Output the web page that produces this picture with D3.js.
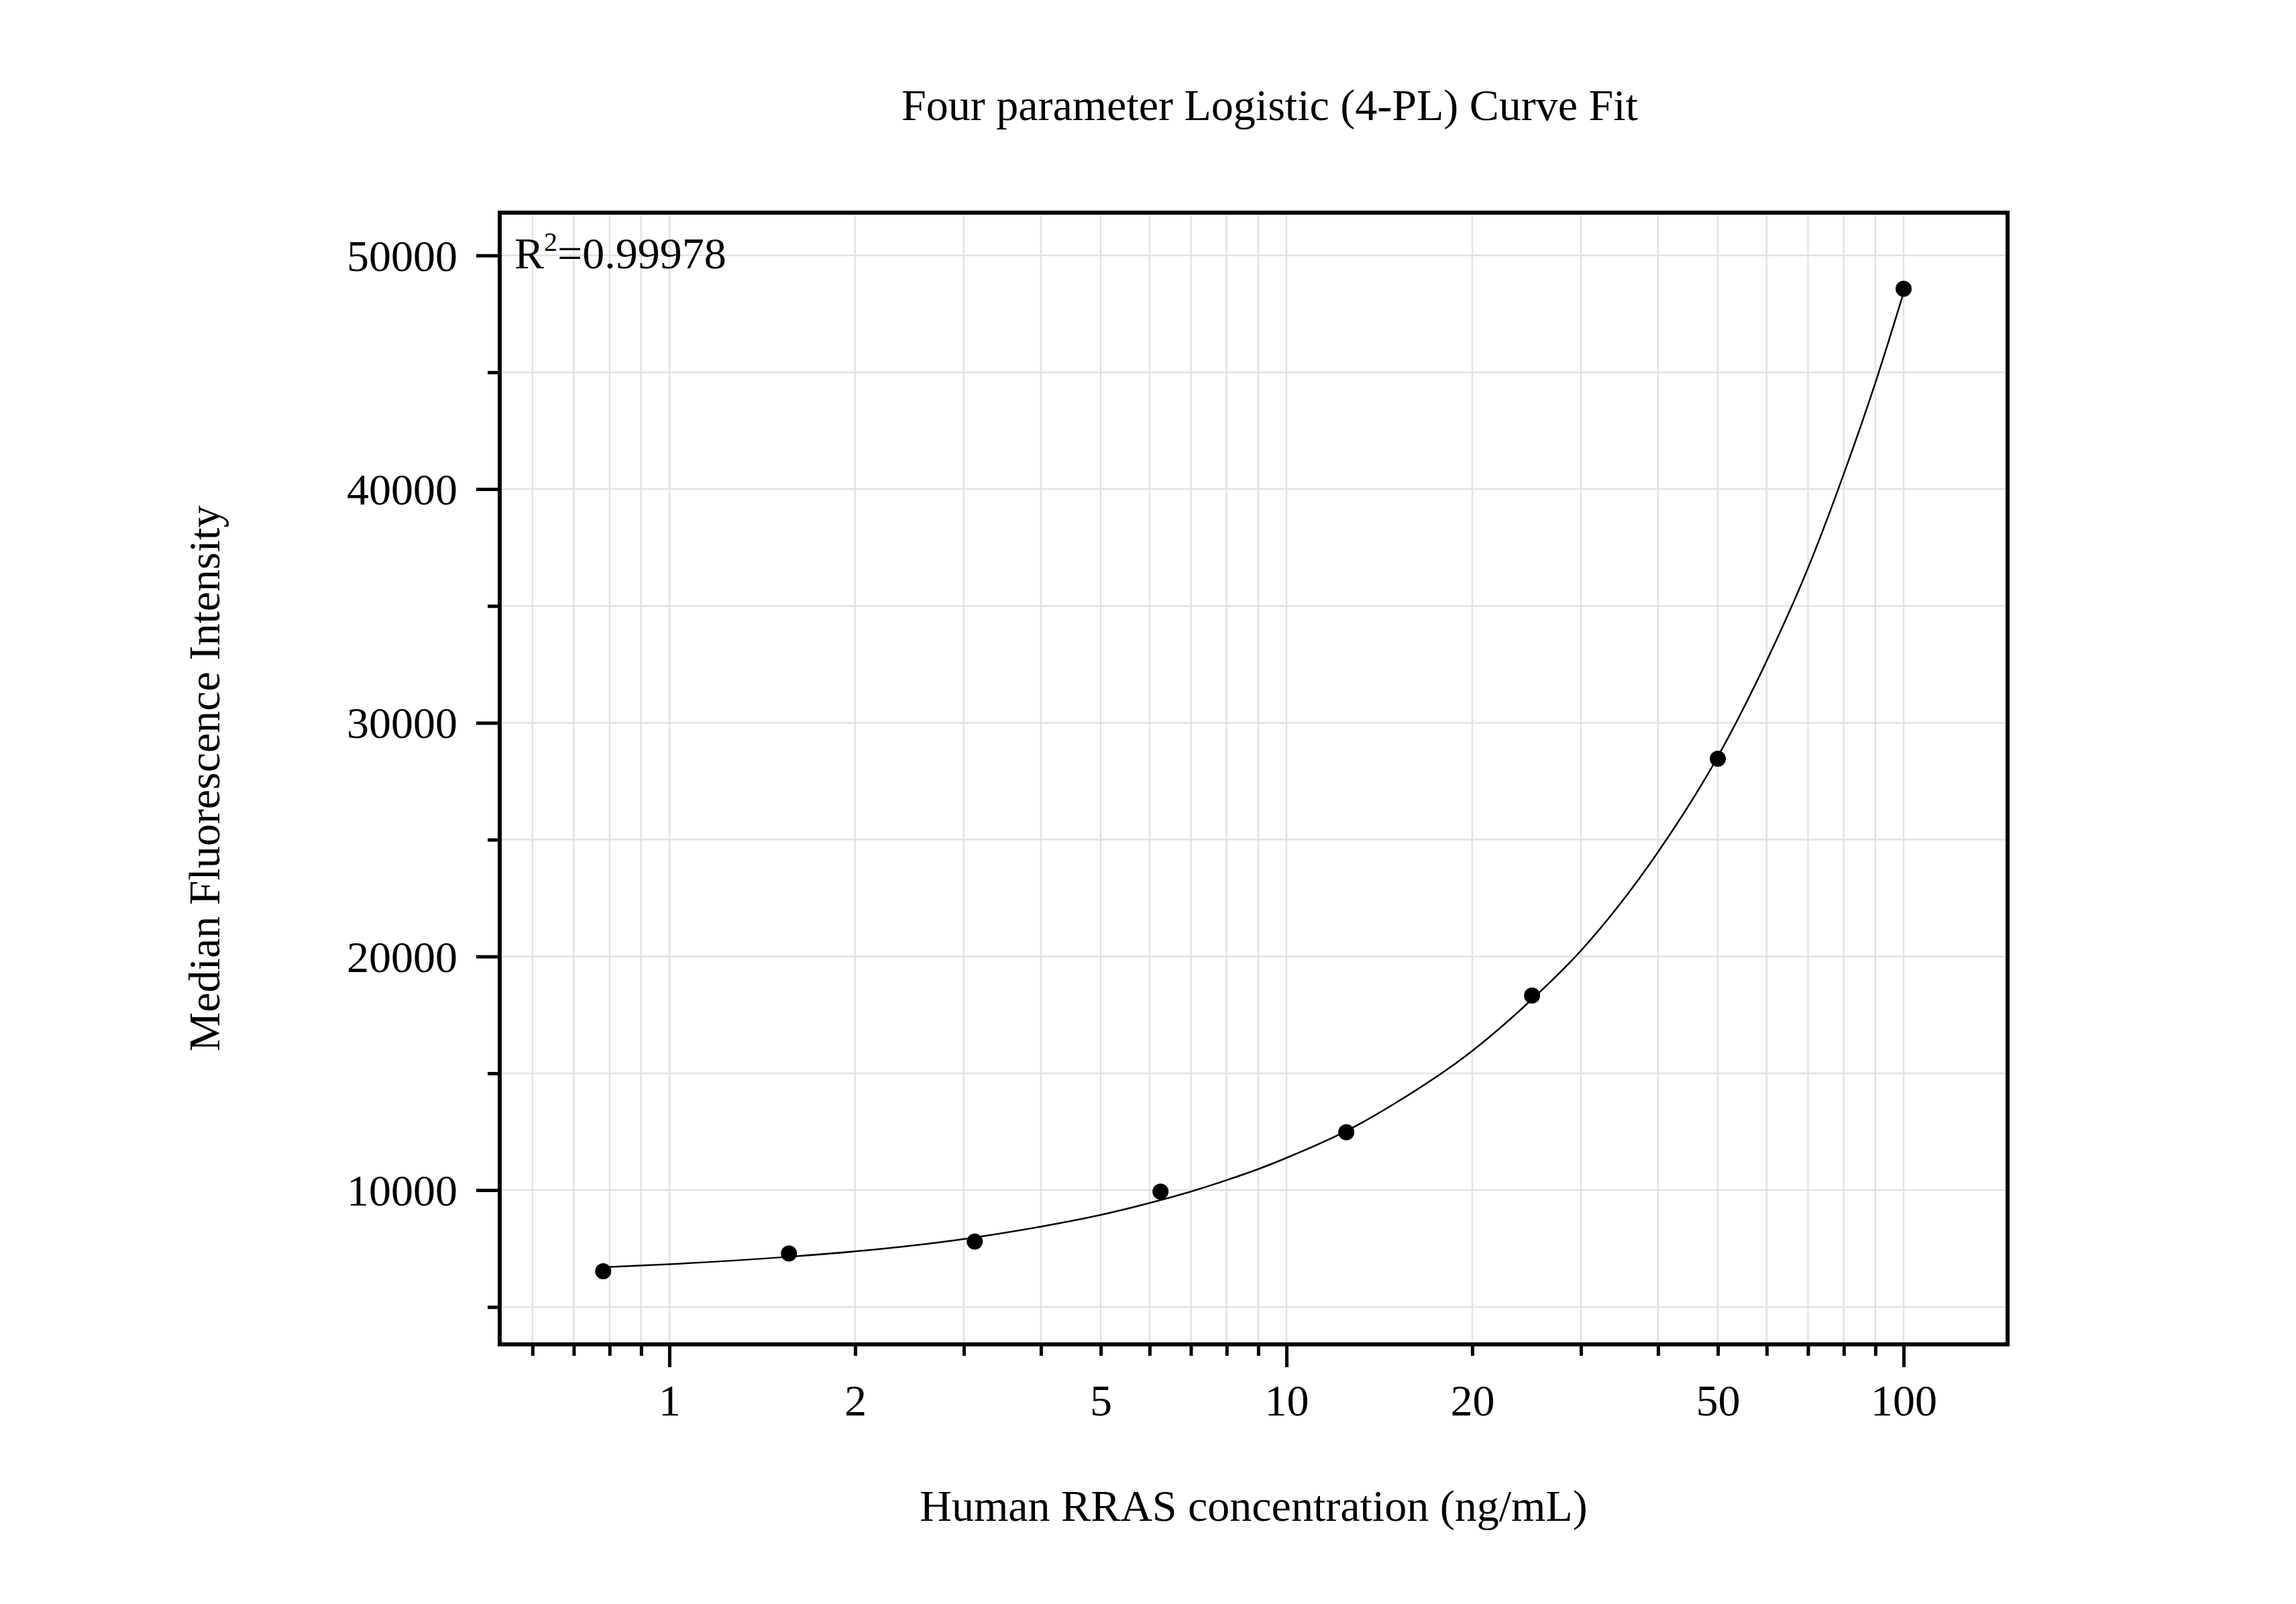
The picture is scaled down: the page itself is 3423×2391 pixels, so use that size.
<!DOCTYPE html>
<html>
<head>
<meta charset="utf-8">
<script src="https://cdn.jsdelivr.net/npm/d3@7"></script>
<style>
  html, body { margin: 0; padding: 0; background: #fff; }
  text { font-family: "Liberation Serif", "Times New Roman", serif; fill: #000; }
</style>
</head>
<body>
<div id="chart"></div>
<script>
// measured standards (ng/mL) and their MFI
var concentrations = [0.78125, 1.5625, 3.125, 6.25, 12.5, 25, 50, 100];
var mfiValues = [6530, 7290, 7800, 9940, 12480, 18330, 28460, 48570];

// fitted 4-PL curve
var fitX = [0.78125, 1, 1.5625, 2, 3, 4, 5, 6, 7, 8, 9, 10, 12.5, 15, 20, 25, 30, 40, 50, 60, 70, 80, 90, 100];
var fitY = [6700, 6830, 7150, 7380, 7910, 8440, 8940, 9450, 9940, 10430, 10900, 11380, 12530, 13720, 15960, 18170, 20250, 24470, 28550, 32650, 36620, 40650, 44550, 48400];

// ticks
var xGridTicks = [0.6, 0.7, 0.8, 0.9, 1, 2, 3, 4, 5, 6, 7, 8, 9, 10, 20, 30, 40, 50, 60, 70, 80, 90, 100];
var xMajorTicks = [1, 10, 100];
var xLabelTicks = [1, 2, 5, 10, 20, 50, 100];
var yMajorTicks = [10000, 20000, 30000, 40000, 50000];
var yMinorTicks = [5000, 15000, 25000, 35000, 45000];

var rSquared = "0.99978";
var titleText = "Four parameter Logistic (4-PL) Curve Fit";
var xTitle = "Human RRAS concentration (ng/mL)";
var yTitle = "Median Fluorescence Intensity";

var W = 3423, H = 2391;
var plotL = 745, plotR = 2993, plotT = 317, plotB = 2004;

var svg = d3.select("#chart")
    .append("svg")
    .attr("width", W)
    .attr("height", H);

svg.append("rect")
    .attr("width", W)
    .attr("height", H)
    .attr("fill", "#fff");

var x = d3.scaleLog().domain([0.531, 147.4]).range([plotL, plotR]);
var y = d3.scaleLinear().domain([3400, 51830]).range([plotB, plotT]);

// grid
var grid = svg.append("g").attr("class", "grid");
grid.selectAll("line.vx")
    .data(xGridTicks)
    .enter()
    .append("line")
    .attr("class", "vx")
    .attr("x1", function (d) { return x(d); })
    .attr("x2", function (d) { return x(d); })
    .attr("y1", plotT)
    .attr("y2", plotB)
    .attr("stroke", "#e2e2e2")
    .attr("stroke-width", 2.5);

grid.selectAll("line.hy")
    .data(yMajorTicks.concat(yMinorTicks))
    .enter()
    .append("line")
    .attr("class", "hy")
    .attr("x1", plotL)
    .attr("x2", plotR)
    .attr("y1", function (d) { return y(d); })
    .attr("y2", function (d) { return y(d); })
    .attr("stroke", "#e2e2e2")
    .attr("stroke-width", 2.5);

// fit curve
var line = d3.line()
    .x(function (d) { return x(d[0]); })
    .y(function (d) { return y(d[1]); })
    .curve(d3.curveMonotoneX);

svg.append("path")
    .datum(d3.zip(fitX, fitY))
    .attr("d", line)
    .attr("fill", "none")
    .attr("stroke", "#000")
    .attr("stroke-width", 2.5);

// points
svg.selectAll("circle.pt")
    .data(d3.zip(concentrations, mfiValues))
    .enter()
    .append("circle")
    .attr("class", "pt")
    .attr("cx", function (d) { return x(d[0]); })
    .attr("cy", function (d) { return y(d[1]); })
    .attr("r", 12)
    .attr("fill", "#000");

// x axis
var xAxis = svg.append("g")
    .attr("transform", "translate(0," + plotB + ")")
    .call(d3.axisBottom(x)
        .tickValues(xGridTicks)
        .tickSizeOuter(0)
        .tickSizeInner(17)
        .tickFormat(function (d) { return xLabelTicks.indexOf(d) >= 0 ? String(d) : ""; }));
xAxis.select(".domain").remove();
xAxis.selectAll(".tick line")
    .attr("stroke", "#000")
    .attr("stroke-width", 5)
    .attr("y2", function (d) { return xMajorTicks.indexOf(d) >= 0 ? 34 : 17; });
xAxis.selectAll(".tick text")
    .attr("y", 106)
    .attr("dy", 0)
    .attr("font-size", 66)
    .attr("font-family", "Liberation Serif");

// y axis
var yAxis = svg.append("g")
    .attr("transform", "translate(" + plotL + ",0)")
    .call(d3.axisLeft(y)
        .tickValues(yMajorTicks.concat(yMinorTicks))
        .tickSizeOuter(0)
        .tickSizeInner(35)
        .tickFormat(function (d) { return yMajorTicks.indexOf(d) >= 0 ? String(d) : ""; }));
yAxis.select(".domain").remove();
yAxis.selectAll(".tick line")
    .attr("stroke", "#000")
    .attr("stroke-width", 5)
    .attr("x2", function (d) { return yMajorTicks.indexOf(d) >= 0 ? -35 : -18; });
yAxis.selectAll(".tick text")
    .attr("x", -63)
    .attr("dy", "0.34em")
    .attr("font-size", 66)
    .attr("font-family", "Liberation Serif");

// frame
svg.append("rect")
    .attr("x", plotL)
    .attr("y", plotT)
    .attr("width", plotR - plotL)
    .attr("height", plotB - plotT)
    .attr("fill", "none")
    .attr("stroke", "#000")
    .attr("stroke-width", 6);

// R squared
var r2 = svg.append("text")
    .attr("x", 767)
    .attr("y", 400)
    .attr("font-size", 66);
r2.append("tspan").text("R");
r2.append("tspan").attr("font-size", 40).attr("dy", -26).text("2");
r2.append("tspan").attr("dy", 26).text("=" + rSquared);

// titles
svg.append("text")
    .attr("x", 1893)
    .attr("y", 179)
    .attr("text-anchor", "middle")
    .attr("font-size", 66)
    .text(titleText);

svg.append("text")
    .attr("x", (plotL + plotR) / 2)
    .attr("y", 2267)
    .attr("text-anchor", "middle")
    .attr("font-size", 66)
    .text(xTitle);

svg.append("text")
    .attr("transform", "translate(327," + (plotT + plotB) / 2 + ") rotate(-90)")
    .attr("text-anchor", "middle")
    .attr("font-size", 66)
    .text(yTitle);
</script>
</body>
</html>
